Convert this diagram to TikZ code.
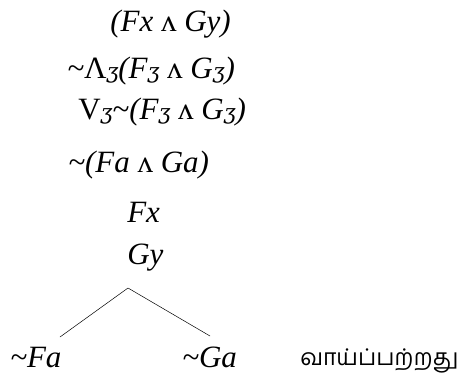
\documentclass[tikz,border=0pt]{standalone}
\usepackage{fontspec}
\setmainfont{Liberation Serif}
\newfontfamily\tamilfont[Script=Tamil]{Hind Madurai}
\newfontfamily\ezhfont{DejaVu Serif}
\usetikzlibrary{positioning}

\newcommand{\tl}{\textasciitilde}
\newcommand{\zh}{{\ezhfont\itshape\fontsize{21}{26}\selectfont ʒ}}
\newcommand{\andop}{\textup{ʌ}}

\begin{document}
\begin{tikzpicture}[
    x=1pt, y=-1pt,
    line width=0.5pt,
    formula/.style={anchor=base west, inner sep=0pt, font=\fontsize{31}{36}\selectfont\itshape},
    verdict/.style={anchor=base west, inner sep=0pt, font=\fontsize{23}{28}\selectfont\tamilfont}
]
\useasboundingbox (0,0) rectangle (465,381);

\node[formula] (premise) at (110,31) {(Fx \andop\ Gy)};
\node[formula] (negall) at (67,78) {\tl\textup{Λ}\zh(F\zh\ \andop\ G\zh)};
\node[formula] (someneg) at (78,119) {\textup{V}\zh\tl(F\zh\ \andop\ G\zh)};
\node[formula] (inst) at (68,172) {\tl(Fa \andop\ Ga)};
\node[formula] (fx) at (127,222) {Fx};
\node[formula] (gy) at (127,264) {Gy};

\node[formula] (notfa) at (10,367) {\tl Fa};
\node[formula] (notga) at (182,367) {\tl Ga};
\node[verdict] (open) at (300,365) {வாய்ப்பற்றது};

\coordinate (fork) at (128,288);
\coordinate (leftend) at (60,337);
\coordinate (rightend) at (210,336);
\draw (fork) -- (leftend);
\draw (fork) -- (rightend);
\end{tikzpicture}
\end{document}
